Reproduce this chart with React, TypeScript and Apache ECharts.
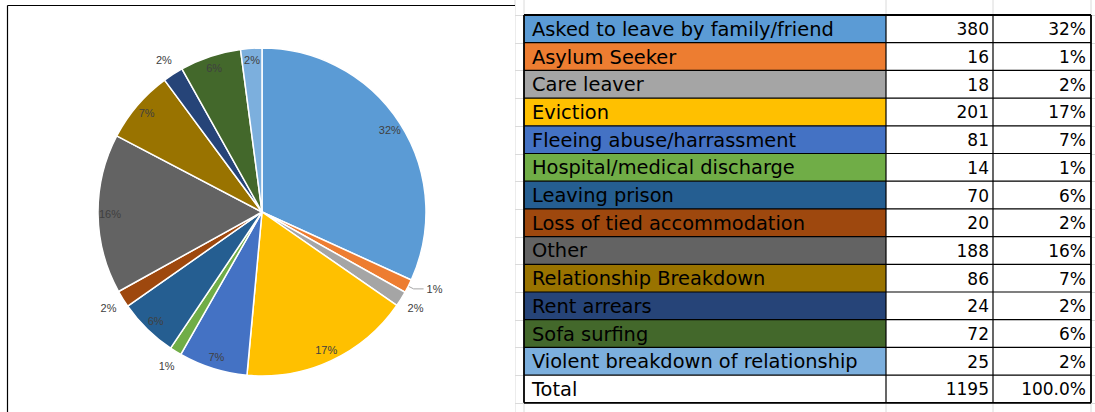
import React, { useEffect, useRef } from "react";
import * as echarts from "echarts";

const categories = [
  "Asked to leave by family/friend",
  "Asylum Seeker",
  "Care leaver",
  "Eviction",
  "Fleeing abuse/harrassment",
  "Hospital/medical discharge",
  "Leaving prison",
  "Loss of tied accommodation",
  "Other",
  "Relationship Breakdown",
  "Rent arrears",
  "Sofa surfing",
  "Violent breakdown of relationship",
];
const counts = [380, 16, 18, 201, 81, 14, 70, 20, 188, 86, 24, 72, 25];
const sliceColors = [
  "#5B9BD5", "#ED7D31", "#A5A5A5", "#FFC000", "#4472C4", "#70AD47", "#255E91",
  "#9E480E", "#636363", "#997300", "#264478", "#43682B", "#7CAFDD",
];
const outerLabelCats = ["Care leaver", "Hospital/medical discharge", "Loss of tied accommodation", "Rent arrears"];
const leaderLabelCats = ["Asylum Seeker"];
const totalLabel = "Total";

const W = 1095;
const H = 412;
const PIE_FONT = "'Liberation Sans', Arial, sans-serif";
const TABLE_FONT = "'DejaVu Sans', Verdana, sans-serif";

export default function App() {
  const ref = useRef<HTMLDivElement>(null);
  useEffect(() => {
    if (!ref.current) return;
    const chart = echarts.init(ref.current, undefined, { renderer: "svg" });
    const total = counts.reduce((a, b) => a + b, 0);
    const pct = (p: any) => Math.round(p.percent) + "%";
    const labelStyle = { color: "#404040", fontSize: 11, fontFamily: PIE_FONT, formatter: pct };

    const mainData = categories.map((name, i) => ({
      name,
      value: counts[i],
      itemStyle: { color: sliceColors[i], borderColor: "#ffffff", borderWidth: 1.5 },
      label: leaderLabelCats.includes(name)
        ? { show: true, position: "outside", ...labelStyle, distanceToLabelLine: 3 }
        : { show: false },
      labelLine: leaderLabelCats.includes(name)
        ? { show: true, length: 6, length2: 10, lineStyle: { color: "#A6A6A6", width: 1 } }
        : { show: false },
    }));
    const ringData = (inner: boolean) =>
      categories.map((name, i) => {
        const isOuter = outerLabelCats.includes(name);
        const isLeader = leaderLabelCats.includes(name);
        const show = inner ? !isOuter && !isLeader : isOuter;
        return {
          name,
          value: counts[i],
          itemStyle: { color: "rgba(0,0,0,0)", borderWidth: 0 },
          label: { show, position: "inside", ...labelStyle },
        };
      });

    // table layout
    const tX = 524, tY = 15, rowH = 27.7;
    const c1 = 886, c2 = 993, tR = 1091;
    const rows = categories.length + 1;
    const tB = tY + rows * rowH;
    const graphics: any[] = [];
    const grid = "#DADADA";
    // spreadsheet gridlines
    [515, 524, 886, 993, 1091].forEach((x) =>
      graphics.push({ type: "line", silent: true, z: 0, shape: { x1: x, y1: 0, x2: x, y2: H }, style: { stroke: grid, lineWidth: 1 } })
    );
    for (let r = 0; r <= rows; r++) {
      const y = Math.round(tY + r * rowH) + 0.5;
      graphics.push({ type: "line", silent: true, z: 0, shape: { x1: 515, y1: y, x2: W, y2: y }, style: { stroke: grid, lineWidth: 1 } });
    }
    // chart box border
    graphics.push({ type: "line", silent: true, z: 1, shape: { x1: 7.5, y1: 5.5, x2: 515, y2: 5.5 }, style: { stroke: "#000", lineWidth: 1.2 } });
    graphics.push({ type: "line", silent: true, z: 1, shape: { x1: 7.5, y1: 5.5, x2: 7.5, y2: H }, style: { stroke: "#000", lineWidth: 1.2 } });
    graphics.push({ type: "rect", silent: true, z: 0, shape: { x: 8, y: 6, width: 507, height: H - 6 }, style: { fill: "#fff" } });
    // cells
    const labelRows = [...categories, totalLabel];
    const valueRows = [...counts.map(String), String(total)];
    const pctRows = [...counts.map((c) => Math.round((c / total) * 100) + "%"), "100.0%"];
    labelRows.forEach((lab, r) => {
      const y = tY + r * rowH;
      const fill = r < categories.length ? sliceColors[r] : "#ffffff";
      graphics.push({ type: "rect", silent: true, z: 2, shape: { x: tX, y, width: c1 - tX, height: rowH }, style: { fill } });
      graphics.push({ type: "rect", silent: true, z: 2, shape: { x: c1, y, width: tR - c1, height: rowH }, style: { fill: "#fff" } });
      const cy = y + rowH / 2 + 0.5;
      graphics.push({ type: "text", silent: true, z: 5, x: tX + 8, y: cy, style: { text: lab, fill: "#000", font: `19.4px ${TABLE_FONT}`, textAlign: "left", textVerticalAlign: "middle" } });
      graphics.push({ type: "text", silent: true, z: 5, x: c2 - 4, y: cy, style: { text: valueRows[r], fill: "#000", font: `17px ${TABLE_FONT}`, textAlign: "right", textVerticalAlign: "middle" } });
      graphics.push({ type: "text", silent: true, z: 5, x: tR - 5, y: cy, style: { text: pctRows[r], fill: "#000", font: `17px ${TABLE_FONT}`, textAlign: "right", textVerticalAlign: "middle" } });
    });
    // cell borders
    for (let r = 0; r <= rows; r++) {
      const y = tY + r * rowH;
      graphics.push({ type: "line", silent: true, z: 4, shape: { x1: tX, y1: y, x2: tR, y2: y }, style: { stroke: "#000", lineWidth: r === 0 || r === rows ? 1.8 : 1.2 } });
    }
    [tX, c1, c2, tR].forEach((x, i) =>
      graphics.push({ type: "line", silent: true, z: 4, shape: { x1: x, y1: tY, x2: x, y2: tB }, style: { stroke: "#000", lineWidth: i === 0 || i === 3 ? 1.8 : 1.2 } })
    );

    chart.setOption({
      animation: false,
      backgroundColor: "#ffffff",
      graphic: graphics,
      series: [
        {
          type: "pie",
          z: 3,
          center: [262, 212],
          radius: [0, 164],
          startAngle: 90,
          clockwise: true,
          avoidLabelOverlap: false,
          silent: true,
          emphasis: { disabled: true },
          data: mainData,
        },
        {
          type: "pie",
          z: 4,
          center: [262, 212],
          radius: [136, 162],
          startAngle: 90,
          clockwise: true,
          avoidLabelOverlap: false,
          silent: true,
          emphasis: { disabled: true },
          labelLine: { show: false },
          data: ringData(true),
        },
        {
          type: "pie",
          z: 4,
          center: [262, 212],
          radius: [166, 190],
          startAngle: 90,
          clockwise: true,
          avoidLabelOverlap: false,
          silent: true,
          emphasis: { disabled: true },
          labelLine: { show: false },
          data: ringData(false),
        },
      ],
    });
    return () => chart.dispose();
  }, []);
  return (
    <div
      ref={ref}
      style={{ position: "fixed", left: 0, top: 0, width: W, height: H, background: "#fff" }}
    />
  );
}
